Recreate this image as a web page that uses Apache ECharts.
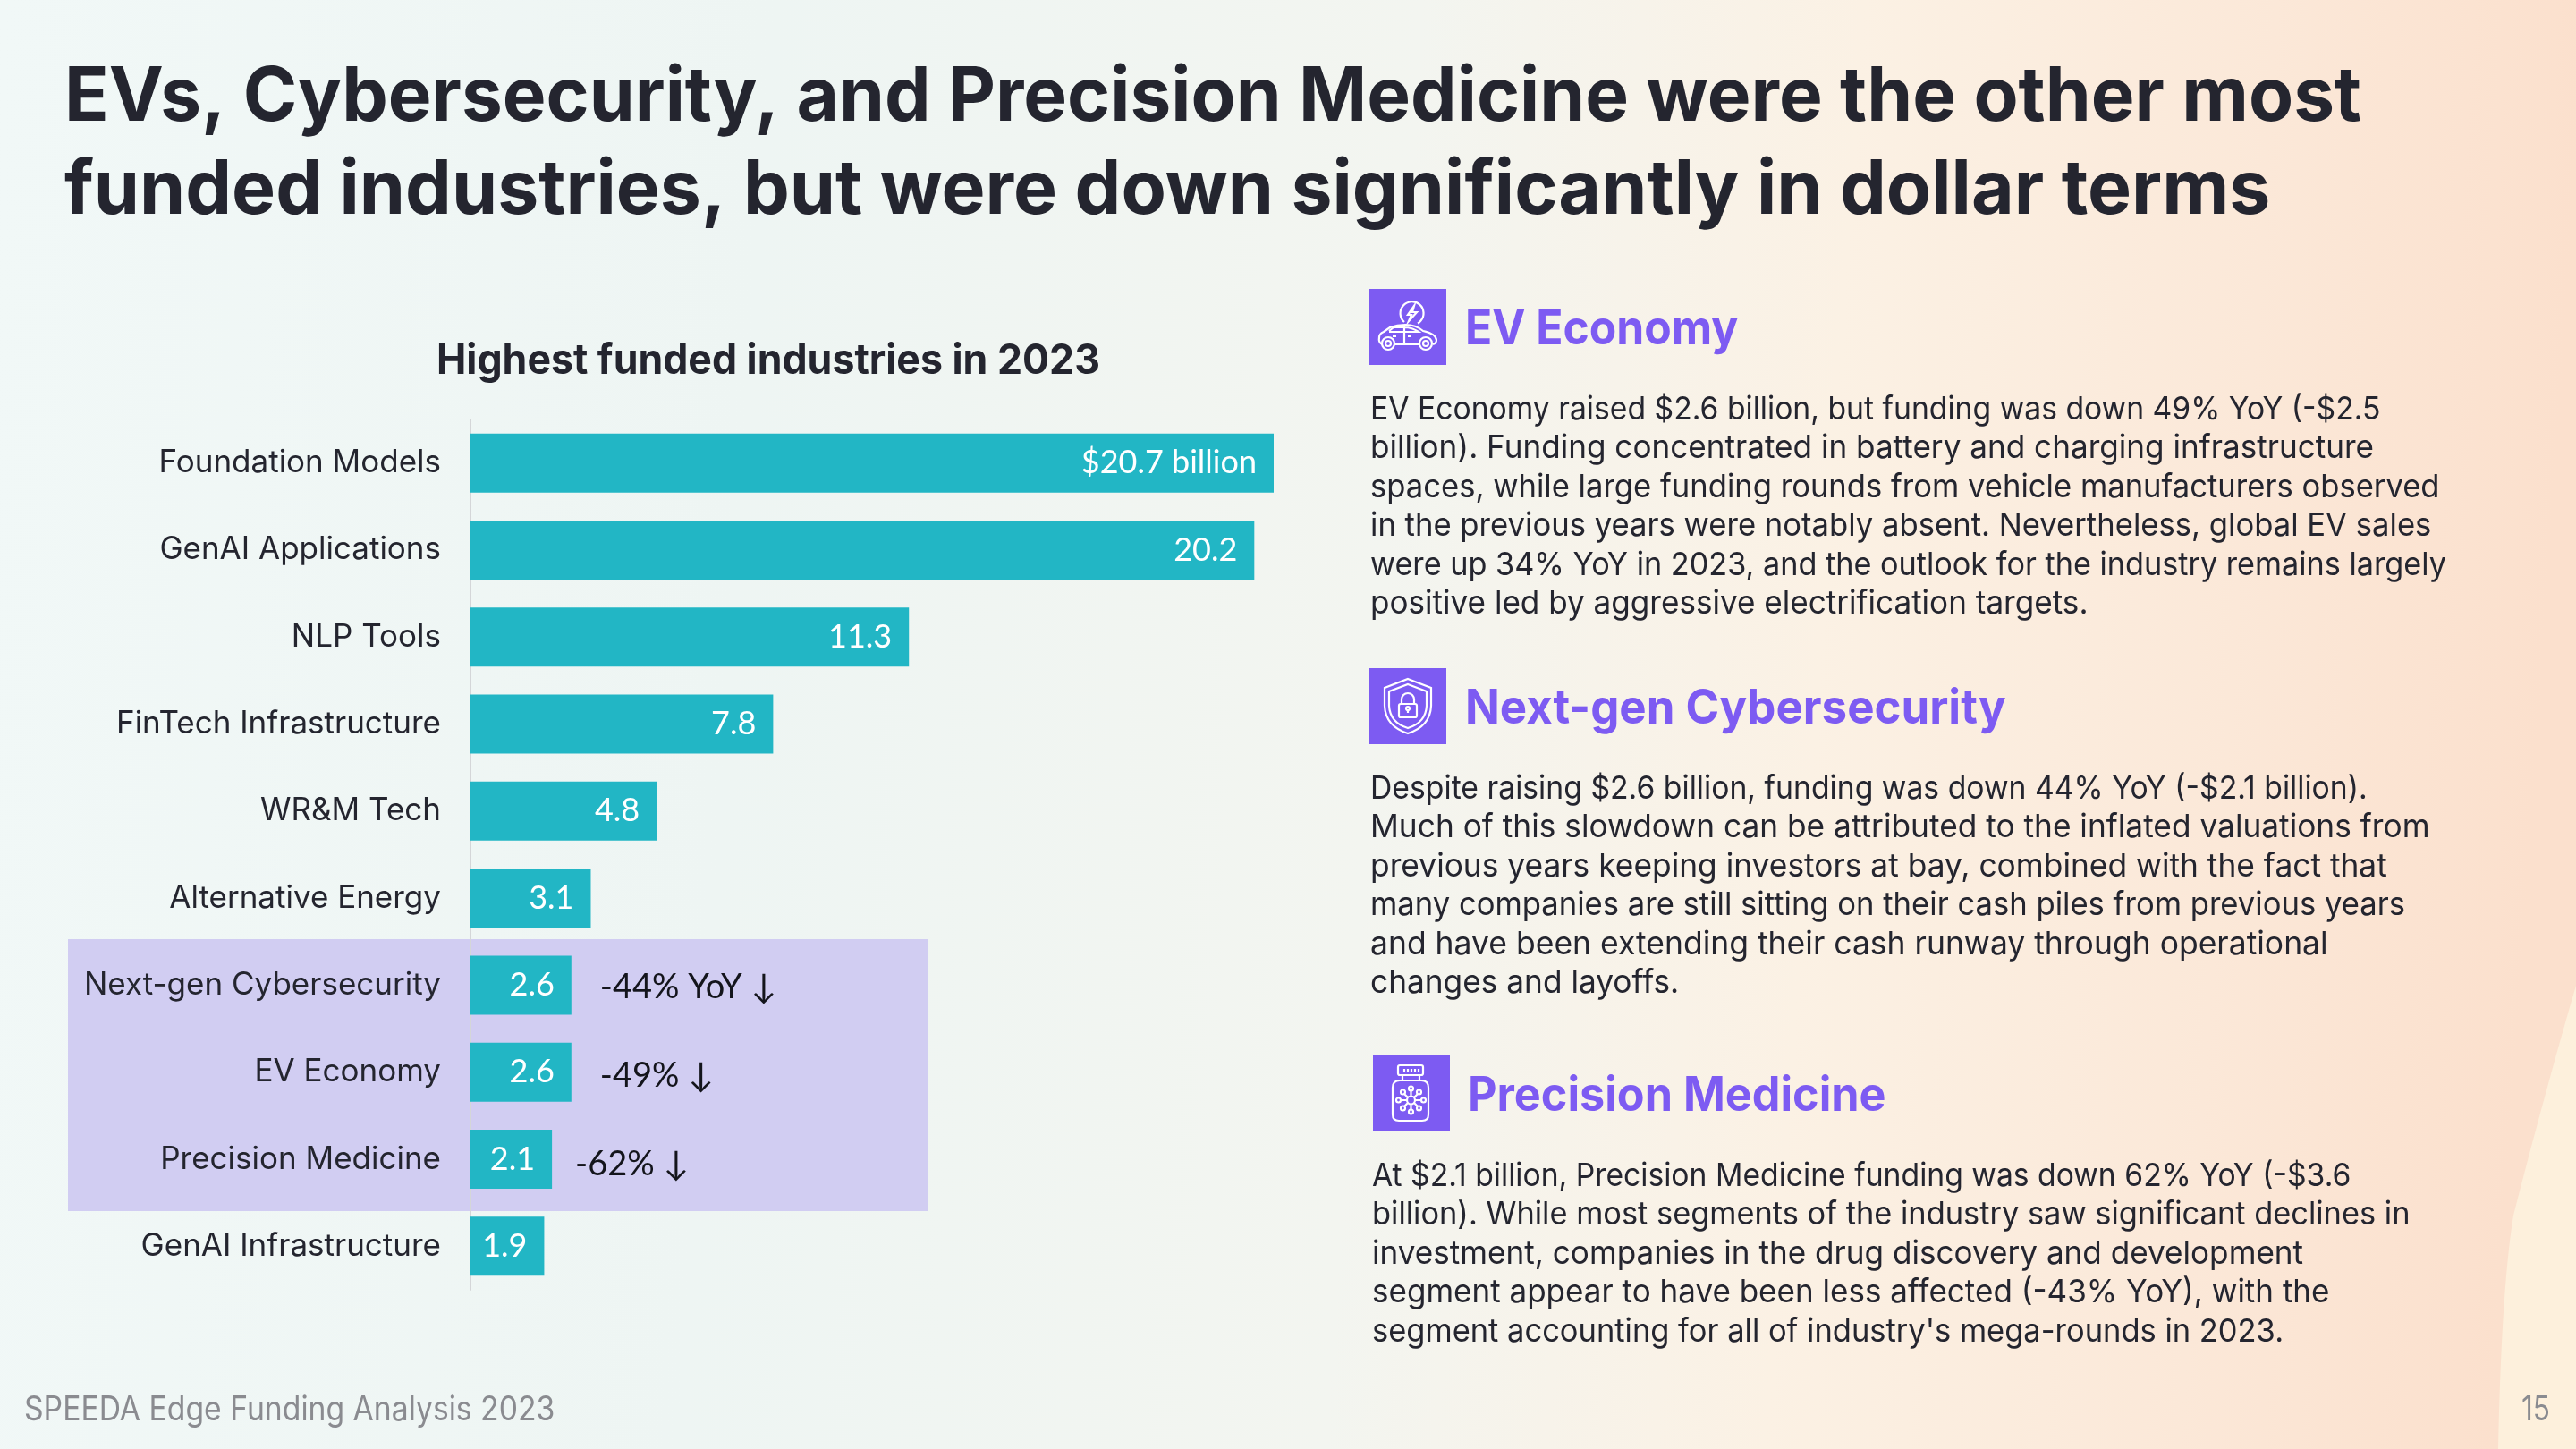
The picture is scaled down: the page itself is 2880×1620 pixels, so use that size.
<!DOCTYPE html>
<html><head><meta charset="utf-8">
<style>html,body{margin:0;padding:0;background:#f3f6f3}#c{width:2880px;height:1620px}</style>
<script src="https://cdn.jsdelivr.net/npm/echarts@6/dist/echarts.min.js"></script></head>
<body><div id="c"></div>
<script>
const categories=["Foundation Models","GenAI Applications","NLP Tools","FinTech Infrastructure","WR&M Tech","Alternative Energy","Next-gen Cybersecurity","EV Economy","Precision Medicine","GenAI Infrastructure"];
const values=[20.7,20.2,11.3,7.8,4.8,3.1,2.6,2.6,2.1,1.9];
const valueLabels=["$20.7 billion","20.2","11.3","7.8","4.8","3.1","2.6","2.6","2.1","1.9"];
const yoyLabels=[null,null,null,null,null,null,"-44% YoY ↓","-49% ↓","-62% ↓",null];
const titleLines=["EVs, Cybersecurity, and Precision Medicine were the other most","funded industries, but were down significantly in dollar terms"];
const chartTitle="Highest funded industries in 2023";
const footer="SPEEDA Edge Funding Analysis 2023";
const pageNo="15";
const sections=[
 {head:"EV Economy",lines:["EV Economy raised $2.6 billion, but funding was down 49% YoY (-$2.5","billion). Funding concentrated in battery and charging infrastructure","spaces, while large funding rounds from vehicle manufacturers observed","in the previous years were notably absent. Nevertheless, global EV sales","were up 34% YoY in 2023, and the outlook for the industry remains largely","positive led by aggressive electrification targets."]},
 {head:"Next-gen Cybersecurity",lines:["Despite raising $2.6 billion, funding was down 44% YoY (-$2.1 billion).","Much of this slowdown can be attributed to the inflated valuations from","previous years keeping investors at bay, combined with the fact that","many companies are still sitting on their cash piles from previous years","and have been extending their cash runway through operational","changes and layoffs."]},
 {head:"Precision Medicine",lines:["At $2.1 billion, Precision Medicine funding was down 62% YoY (-$3.6","billion). While most segments of the industry saw significant declines in","investment, companies in the drug discovery and development","segment appear to have been less affected (-43% YoY), with the","segment accounting for all of industry's mega-rounds in 2023."]}
];
// layout of the text blocks (pixels)
const K=2880/1568;
const sectionLayout=[
 {hx:1638,hr:1058*K,hy:369,bx:1532,by:458,ends:[1449,1445,1485,1480,1489,1271]},
 {hx:1638,hr:1221*K,hy:793,bx:1532,by:882,ends:[1441,1479,1453,1464,1417,1022]},
 {hx:1641,hr:1148*K,hy:1226,bx:1534,by:1315,ends:[1431,1467,1402,1418,1390]}
];
const FONT='Inter';
const DARK='#24252f', PURPLE='#7d5bf2';
const measure=document.createElement('canvas').getContext('2d');
function fit(t,size,weight,w){measure.font=weight+' '+size+'px '+FONT;return w/measure.measureText(t).width;}
const g=[];
function txt(t,x,y,size,weight,fill,width,align){g.push({type:'text',x,y,scaleX:fit(t,size,weight,width),silent:true,style:{text:t,fontFamily:FONT,fontSize:size,fontWeight:weight,fill,align:align||'left',verticalAlign:'middle'}});}
txt(titleLines[0],72,110,84,700,DARK,2640-72);
txt(titleLines[1],72,214,84,700,DARK,1382*K-72);
txt(chartTitle,859,404,47,700,DARK,404*K,'center');
txt(footer,27,1577,38,400,'#8a8b90',323*K);
txt(pageNo,2851,1577,38,400,'#8a8b90',32,'right');
sections.forEach((s,n)=>{
  const L=sectionLayout[n];
  txt(s.head,L.hx,L.hy,54,700,PURPLE,L.hr-L.hx);
  s.lines.forEach((l,i)=>txt(l,L.bx,L.by+i*43.5,36,400,DARK,L.ends[i]*K-L.bx));
});
// page background and highlight band
g.unshift({type:'rect',z:-1,shape:{x:76,y:1050,width:962,height:304},style:{fill:'#d1cdf2'},silent:true});
g.unshift({type:'rect',z:-3,shape:{x:0,y:0,width:2880,height:1620},silent:true,style:{fill:new echarts.graphic.LinearGradient(0,0,1,0.12,[
 {offset:0,color:'#f1f8f7'},{offset:0.3,color:'#eef5f3'},{offset:0.55,color:'#f3f5f0'},{offset:0.72,color:'#fbf1e4'},{offset:0.88,color:'#fbe8d8'},{offset:1,color:'#fbe0cd'}])}});
const cream="M2880 1102 C2860 1170 2830 1280 2810 1359 C2800 1420 2795 1520 2793 1620 L2880 1620 Z";
// icons
const iconBoxes=[{x:1531,y:323},{x:1531,y:747},{x:1535,y:1180}];
iconBoxes.forEach(b=>g.push({type:'rect',z:1,shape:{x:b.x,y:b.y,width:86,height:85},style:{fill:PURPLE},silent:true}));
const iconPaths=[[
 "M39 37 A13 13 0 1 1 54 38.500","M50 19 L43 29 L47 29 L44 36 L53 26 L48 26 Z",
 "M14 62 Q10 60 11 54 Q11 50 16 48 L23 43 Q31 40 40 40 Q52 40 60 47 Q74 50 75 57 Q75 61 71 62 M56 62 L28 62",
 "M22 47 L27 43 L39 43 L39 62 M39 43 Q48 43 55 48 L22 48",
 "M28 61 A7 7 0 1 1 14 61 A7 7 0 1 1 28 61 M24 61 A3 3 0 1 1 18 61 A3 3 0 1 1 24 61",
 "M70 61 A7 7 0 1 1 56 61 A7 7 0 1 1 70 61 M66 61 A3 3 0 1 1 60 61 A3 3 0 1 1 66 61",
 "M26 53 L30 53 M43 53 L47 53"],[
 "M43 12 L69 22 L69 42 Q68 65 43 73 Q18 65 17 42 L17 22 Z","M43 18 L64 26 L64 42 Q63 61 43 67 Q23 61 22 42 L22 26 Z",
 "M36 40 L36 35 A7 7 0 0 1 50 35 L50 40","M35 40 L51 40 Q53 40 53 42 L53 53 Q53 55 51 55 L35 55 Q33 55 33 53 L33 42 Q33 40 35 40",
 "M45 45 A2 2 0 1 1 41 45 A2 2 0 1 1 45 45 M43 47 L43 50"],[
 "M30 11 L54 11 Q56 11 56 13 L56 20 Q56 22 54 22 L30 22 Q28 22 28 20 L28 13 Q28 11 30 11 M35 15 L35 18 M39 15 L39 18 M43 15 L43 18 M47 15 L47 18 M51 15 L51 18",
 "M33 22 L33 28 M52 22 L52 28","M30 28 L54 28 Q62 28 62 36 L62 66 Q62 73 55 73 L29 73 Q22 73 22 66 L22 36 Q22 28 30 28",
 "M47 50 A4.5 4.5 0 1 1 38 50 A4.5 4.5 0 1 1 47 50 M42.5 45 L42.5 39 M42.5 55 L42.5 61 M38 50 L31 50 M47 50 L54 50 M39 47 L35 43 M46 47 L50 43 M39 53 L35 57 M46 53 L50 57",
 "M45 37 A2.5 2.5 0 1 1 40 37 A2.5 2.5 0 1 1 45 37 M45 63 A2.5 2.5 0 1 1 40 63 A2.5 2.5 0 1 1 45 63 M31 50 A2.5 2.5 0 1 1 26 50 A2.5 2.5 0 1 1 31 50 M59 50 A2.5 2.5 0 1 1 54 50 A2.5 2.5 0 1 1 59 50 M36 41 A2.5 2.5 0 1 1 31 41 A2.5 2.5 0 1 1 36 41 M54 41 A2.5 2.5 0 1 1 49 41 A2.5 2.5 0 1 1 54 41 M36 59 A2.5 2.5 0 1 1 31 59 A2.5 2.5 0 1 1 36 59 M54 59 A2.5 2.5 0 1 1 49 59 A2.5 2.5 0 1 1 54 59"]];
const yoyOffset=[0,0,0,0,0,0,[0,2],[0,4],[-6,6],0];
const chart=echarts.init(document.getElementById('c'),null,{renderer:'canvas'});
chart.setOption({
 animation:false,
 backgroundColor:'transparent',
 grid:{left:526,top:469,width:898,height:973,containLabel:false},
 xAxis:{type:'value',min:0,max:20.7,show:false},
 yAxis:{type:'category',inverse:true,data:categories,
   axisLine:{show:true,lineStyle:{color:'#d4d6d8',width:2}},axisTick:{show:false},
   axisLabel:{margin:33,fontFamily:FONT,fontSize:35,color:DARK,fontWeight:400}},
 series:[{type:'bar',data:values,barWidth:66,itemStyle:{color:'#22b6c5'},z:3,
   label:{show:true,position:'insideRight',distance:19,fontFamily:'Lato',fontSize:36,color:'#fff',formatter:p=>valueLabels[p.dataIndex]}},
  {type:'bar',data:values.map((v,i)=>({value:v,label:{offset:yoyOffset[i]||[0,0]}})),barWidth:66,barGap:'-100%',itemStyle:{color:'transparent'},z:4,
   label:{show:true,position:'right',distance:32,fontFamily:'Lato',fontSize:38,color:'#14151c',formatter:p=>yoyLabels[p.dataIndex]||''}},
  {type:'custom',coordinateSystem:'none',silent:true,z:-2,data:[[0]],renderItem:()=>({type:'path',shape:{pathData:cream},style:{fill:'#fdf0dc'}})},
  {type:'custom',coordinateSystem:'none',silent:true,z:10,data:[[0]],renderItem:()=>({type:'group',children:iconPaths.flatMap((ps,i)=>ps.map(d=>({type:'path',x:iconBoxes[i].x,y:iconBoxes[i].y,shape:{pathData:d},style:{fill:'none',stroke:'#fff',lineWidth:2.2}})))})}],
 graphic:g
});
</script></body></html>
